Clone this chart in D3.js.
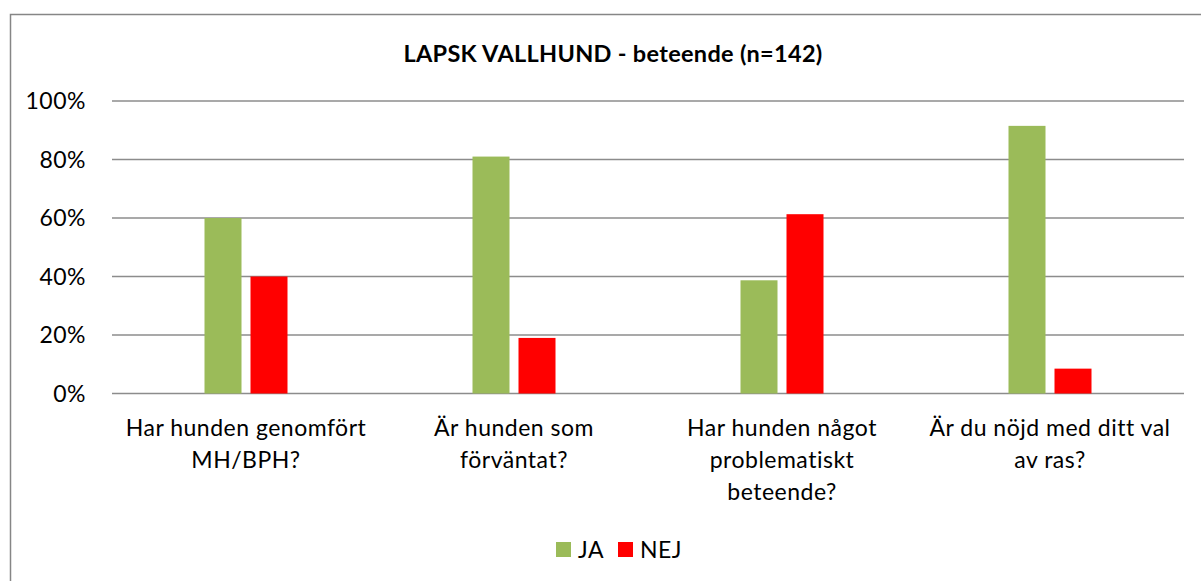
<!DOCTYPE html>
<html>
<head>
<meta charset="utf-8">
<script src="https://cdn.jsdelivr.net/npm/d3@7"></script>
<style>
  body { margin: 0; background: #fff; }
  svg text { font-family: Lato, "Open Sans", sans-serif; fill: #000; letter-spacing: 0.5px; }
</style>
</head>
<body>
<div class="chart"></div>
<script>
const categories = [
    ['Har hunden genomfört', 'MH/BPH?'],
    ['Är hunden som', 'förväntat?'],
    ['Har hunden något', 'problematiskt', 'beteende?'],
    ['Är du nöjd med ditt val', 'av ras?']
]
const seriesNames = ['JA', 'NEJ']
const jaValues = [0.60, 0.81, 0.387, 0.915]
const nejValues = [0.40, 0.19, 0.613, 0.085]
const yTicks = [0, 0.2, 0.4, 0.6, 0.8, 1]
const colors = ['#9BBB59', '#FF0000']

const width = 1201, height = 581
const margin = { top: 101, left: 112, right: 17, bottom: 187.5 }

const svg = d3.select('.chart')
    .append('svg')
    .attr('width', width)
    .attr('height', height)

// outer chart frame (runs past the right and bottom edge)
svg.append('rect')
    .attr('x', 10.5).attr('y', 14.5)
    .attr('width', 1250).attr('height', 700)
    .attr('fill', 'none')
    .attr('stroke', '#868686')
    .attr('stroke-width', 1.5)

svg.append('text')
    .attr('x', 613).attr('y', 62)
    .attr('text-anchor', 'middle')
    .attr('font-weight', 'bold')
    .attr('font-size', 23.5)
    .style('letter-spacing', '0.3px')
    .text('LAPSK VALLHUND - beteende (n=142)')

const x0 = d3.scaleBand()
    .domain(d3.range(categories.length))
    .range([margin.left, width - margin.right])

const x1 = d3.scaleBand()
    .domain(seriesNames)
    .range([0, x0.bandwidth()])
    .paddingInner(9 / 46)
    .paddingOuter(92.5 / 46)

const y = d3.scaleLinear()
    .domain([0, 1])
    .range([height - margin.bottom, margin.top])

// gridlines
svg.append('g')
    .selectAll('line')
    .data(yTicks)
    .join('line')
    .attr('x1', margin.left)
    .attr('x2', width - margin.right)
    .attr('y1', d => y(d))
    .attr('y2', d => y(d))
    .attr('stroke', '#8c8c8c')
    .attr('stroke-width', 1.5)

// y tick labels
svg.append('g')
    .selectAll('text')
    .data(yTicks)
    .join('text')
    .attr('x', 86)
    .attr('y', d => y(d) + 8)
    .attr('text-anchor', 'end')
    .attr('font-size', 23)
    .text(d => d3.format('.0%')(d))

const rows = categories.map((c, i) => ({ i, values: [jaValues[i], nejValues[i]] }))

const groups = svg.append('g')
    .selectAll('g')
    .data(rows)
    .join('g')
    .attr('transform', d => `translate(${x0(d.i)},0)`)

groups.selectAll('rect')
    .data(d => d.values.map((v, k) => ({ key: seriesNames[k], v, k })))
    .join('rect')
    .attr('x', d => x1(d.key))
    .attr('width', x1.bandwidth())
    .attr('y', d => y(d.v))
    .attr('height', d => y(0) - y(d.v))
    .attr('fill', d => colors[d.k])

// category labels
const labels = svg.append('g')
    .selectAll('text')
    .data(categories)
    .join('text')
    .attr('x', (d, i) => x0(i) + x0.bandwidth() / 2)
    .attr('y', 436)
    .attr('text-anchor', 'middle')
    .attr('font-size', 23)

labels.selectAll('tspan')
    .data(d => d)
    .join('tspan')
    .attr('x', function() { return this.parentNode.getAttribute('x') })
    .attr('dy', (d, i) => i === 0 ? 0 : 32)
    .text(d => d)

// legend
const legend = svg.append('g')
    .selectAll('g')
    .data(seriesNames)
    .join('g')
    .attr('transform', (d, i) => `translate(${556 + i * 62},542)`)

legend.append('rect')
    .attr('width', 15).attr('height', 15)
    .attr('fill', (d, i) => colors[i])

legend.append('text')
    .attr('x', 22).attr('y', 16)
    .attr('font-size', 23)
    .text(d => d)
</script>
</body>
</html>
